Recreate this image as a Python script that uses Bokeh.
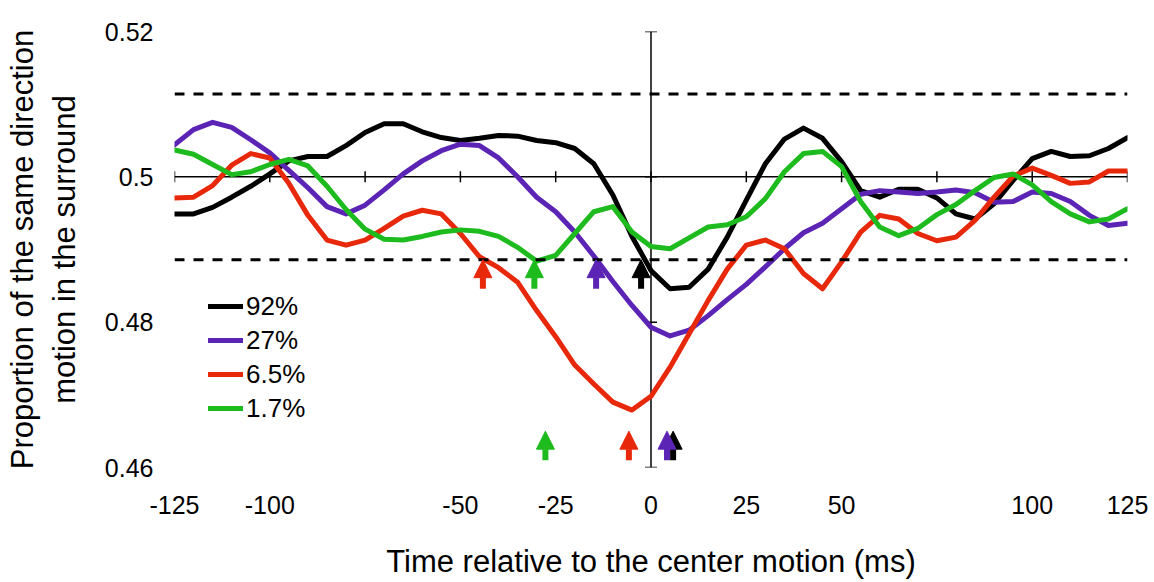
import math
from bokeh.plotting import figure
from bokeh.models import (Range1d, LinearAxis, FixedTicker, Span, Arrow, NormalHead,
                          ColumnDataSource, Legend, LegendItem)
from bokeh.embed import file_html
from bokeh.resources import INLINE

FONT = "Liberation Sans"

time_ms = [-125, -120, -115, -110, -105, -100, -95, -90, -85, -80, -75, -70, -65, -60,
           -55, -50, -45, -40, -35, -30, -25, -20, -15, -10, -5, 0, 5, 10, 15, 20, 25,
           30, 35, 40, 45, 50, 55, 60, 65, 70, 75, 80, 85, 90, 95, 100, 105, 110, 115,
           120, 125]

coh_92 = [0.4949, 0.4949, 0.4958, 0.4972, 0.4987, 0.5004, 0.5022, 0.5028, 0.5028, 0.5043,
          0.5061, 0.5073, 0.5073, 0.5062, 0.5054, 0.5050, 0.5053, 0.5057, 0.5056, 0.5050,
          0.5047, 0.5039, 0.5018, 0.4975, 0.4918, 0.4871,
          0.4846, 0.4848, 0.4873, 0.4917, 0.4968, 0.5018, 0.5052, 0.5067, 0.5053, 0.5021,
          0.4981, 0.4972, 0.4983, 0.4983, 0.4971, 0.4949, 0.4942, 0.4963, 0.4995, 0.5025,
          0.5035, 0.5028, 0.5029, 0.5039, 0.5054]

coh_27 = [0.5044, 0.5065, 0.5075, 0.5068, 0.5051, 0.5033, 0.5009, 0.4985, 0.4959, 0.4949,
          0.4961, 0.4982, 0.5004, 0.5022, 0.5036, 0.5045, 0.5043, 0.5026, 0.5000, 0.4972,
          0.4952, 0.4924, 0.4891, 0.4856, 0.4823, 0.4793,
          0.4781, 0.4789, 0.4809, 0.4831, 0.4852, 0.4876, 0.4901, 0.4923, 0.4936, 0.4956,
          0.4976, 0.4981, 0.4979, 0.4977, 0.4979, 0.4982, 0.4978, 0.4965, 0.4966, 0.4979,
          0.4977, 0.4966, 0.4947, 0.4933, 0.4936]

coh_6_5 = [0.4971, 0.4972, 0.4988, 0.5016, 0.5032, 0.5026, 0.4991, 0.4947, 0.4913, 0.4906,
           0.4913, 0.4929, 0.4946, 0.4954, 0.4949, 0.4922, 0.4890, 0.4875, 0.4855, 0.4816,
           0.4780, 0.4741, 0.4715, 0.4690, 0.4679, 0.4698,
           0.4738, 0.4784, 0.4830, 0.4873, 0.4906, 0.4913, 0.4901, 0.4867, 0.4846, 0.4883,
           0.4924, 0.4947, 0.4942, 0.4922, 0.4912, 0.4917, 0.4940, 0.4972, 0.5001, 0.5012,
           0.5002, 0.4991, 0.4993, 0.5008, 0.5008]

coh_1_7 = [0.5037, 0.5031, 0.5017, 0.5003, 0.5007, 0.5017, 0.5024, 0.5015, 0.4987, 0.4955,
           0.4928, 0.4914, 0.4913, 0.4918, 0.4924, 0.4927, 0.4925, 0.4918, 0.4903, 0.4884,
           0.4892, 0.4922, 0.4952, 0.4959, 0.4924, 0.4904,
           0.4901, 0.4916, 0.4931, 0.4934, 0.4945, 0.4970, 0.5007, 0.5032, 0.5035, 0.5014,
           0.4966, 0.4931, 0.4919, 0.4929, 0.4948, 0.4962, 0.4981, 0.4999, 0.5004, 0.4989,
           0.4966, 0.4949, 0.4938, 0.4942, 0.4956]

series_labels = ["92%", "27%", "6.5%", "1.7%"]
series_colors = ["#000000", "#5B24B5", "#E8280B", "#1DBB1D"]
series_values = [coh_92, coh_27, coh_6_5, coh_1_7]

# threshold crossings (upper arrow row) and latency markers (lower arrow row), ms
arrow_upper_x = [-2.6, -14.4, -44.1, -30.6]
arrow_lower_x = [5.8, 4.2, -5.8, -27.7]

chance_level = 0.5
center_time = 0
threshold_band = [0.4886, 0.5114]
lower_arrow_level = 0.465
arrow_length = 0.004

x_ticks = [-125, -100, -50, -25, 0, 25, 50, 100, 125]
x_tick_labels = ["-125", "-100", "-50", "-25", "0", "25", "50", "100", "125"]
y_ticks = [0.46, 0.48, 0.5, 0.52]
y_tick_labels = ["0.46", "0.48", "0.5", "0.52"]
axis_ticks_x = [-125, -100, -75, -50, -25, 0, 25, 50, 75, 100, 125]

x_title = "Time relative to the center motion (ms)"
y_title = "Proportion of the same direction\nmotion in the surround"

p = figure(width=1154, height=582, x_range=Range1d(-125, 125), y_range=Range1d(0.46, 0.52),
           output_backend="svg", toolbar_location=None,
           x_axis_location=None, y_axis_location=None,
           min_border_left=174, min_border_right=27, min_border_top=31, min_border_bottom=115)
p.outline_line_color = None
p.background_fill_color = "white"
p.border_fill_color = "white"
for g in p.grid:
    g.visible = False

# axes crossing at (0, 0.5): lines and tick marks inside the frame
p.add_layout(Span(location=chance_level, dimension="width", line_color="black",
                  line_width=1.5, level="underlay"))
p.add_layout(Span(location=center_time, dimension="height", line_color="black",
                  line_width=1.5, level="underlay"))
p.scatter(axis_ticks_x, [chance_level] * len(axis_ticks_x), marker="dash", angle=math.pi / 2,
          size=11, line_color="black", line_width=1.5)
p.scatter([center_time] * len(y_ticks), y_ticks, marker="dash", size=12,
          line_color="black", line_width=1.5)

# label axes on the outer sides
xlab = LinearAxis(ticker=FixedTicker(ticks=x_ticks), axis_line_color=None,
                  major_tick_line_color=None, minor_tick_line_color=None,
                  major_label_overrides=dict(zip(x_ticks, x_tick_labels)),
                  major_label_text_font=FONT, major_label_text_font_size="25px",
                  major_label_text_color="black", major_label_standoff=22,
                  axis_label=x_title,
                  axis_label_text_font=FONT, axis_label_text_font_size="31px",
                  axis_label_text_font_style="normal", axis_label_text_color="black",
                  axis_label_standoff=27)
p.add_layout(xlab, "below")

ylab = LinearAxis(ticker=FixedTicker(ticks=y_ticks), axis_line_color=None,
                  major_tick_line_color=None, minor_tick_line_color=None,
                  major_label_overrides=dict(zip(y_ticks, y_tick_labels)),
                  major_label_text_font=FONT, major_label_text_font_size="25px",
                  major_label_text_color="black", major_label_standoff=15,
                  axis_label=y_title,
                  axis_label_text_font=FONT, axis_label_text_font_size="31px",
                  axis_label_text_font_style="normal", axis_label_text_color="black",
                  axis_label_standoff=20)
p.add_layout(ylab, "left")

# threshold lines
for lvl in threshold_band:
    p.add_layout(Span(location=lvl, dimension="width", line_color="black",
                      line_width=3, line_dash="10 9"))

# curves
items = []
for lab, col, vals in zip(series_labels, series_colors, series_values):
    r = p.line(time_ms, vals, line_color=col, line_width=5, line_join="round", line_cap="round")
    items.append(LegendItem(label=lab, renderers=[r]))

# arrows
for col, xu, xl in zip(series_colors, arrow_upper_x, arrow_lower_x):
    src = ColumnDataSource(dict(
        x=[xu, xl],
        y_end=[threshold_band[0], lower_arrow_level],
        y_start=[threshold_band[0] - arrow_length, lower_arrow_level - arrow_length]))
    p.add_layout(Arrow(source=src, x_start="x", x_end="x", y_start="y_start", y_end="y_end",
                       line_color=col, line_width=6, line_cap="butt",
                       end=NormalHead(size=18, fill_color=col, line_color=col, line_width=1)))

legend = Legend(items=items, location=(34, 42), orientation="vertical",
                glyph_width=35, glyph_height=34, label_height=34, spacing=0, padding=0,
                margin=0, label_standoff=3, label_text_font=FONT,
                label_text_font_size="26px", label_text_color="black",
                border_line_color=None, background_fill_alpha=0)
p.add_layout(legend, "center")

open("out.html", "w").write(file_html(p, INLINE))
